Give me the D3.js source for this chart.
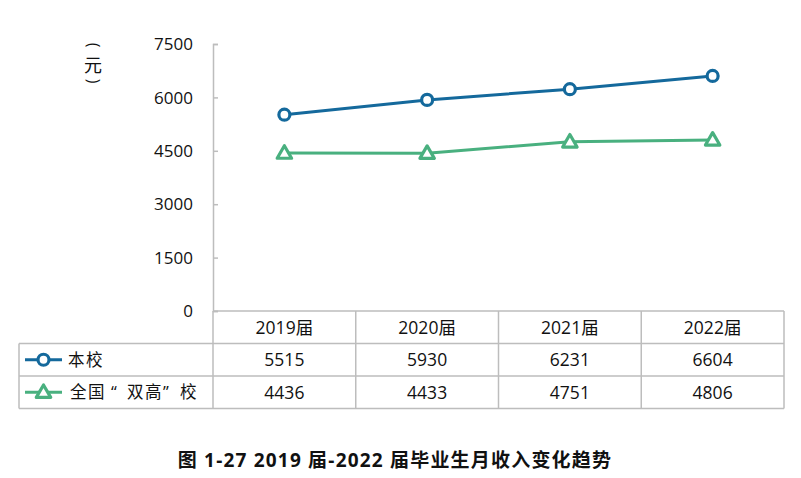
<!DOCTYPE html>
<html>
<head>
<meta charset="utf-8">
<script src="https://cdn.jsdelivr.net/npm/d3@7"></script>
<style>
  body { margin: 0; background: #fff; }
  text { font-family: "Open Sans", "Noto Sans CJK SC", sans-serif; }
</style>
</head>
<body>
<svg width="801" height="478"></svg>
<script>
const years = ["2019届", "2020届", "2021届", "2022届"];
const schoolVals = [5515, 5930, 6231, 6604];
const nationVals = [4436, 4433, 4751, 4806];
const yTicks = [0, 1500, 3000, 4500, 6000, 7500];
const seriesNames = ["本校", "全国“双高”校"];

const svg = d3.select("svg");
const plotL = 213, plotR = 784, plotT = 44, plotB = 311;
const rowH = 32.5;
const blue = "#14699c", green = "#49b07f", grid = "#bdbdbd";

const x = d3.scaleBand().domain(years).range([plotL, plotR]);
const y = d3.scaleLinear().domain([0, 7500]).range([plotB, plotT]);

// y axis
const yAxis = svg.append("g").attr("transform", `translate(${plotL},0)`)
  .call(d3.axisRight(y).tickValues(yTicks).tickSize(5).tickFormat(""));
yAxis.select(".domain").attr("stroke", grid).attr("stroke-width", 1.5);
yAxis.selectAll(".tick line").attr("stroke", grid).attr("stroke-width", 1.5);

svg.append("g").selectAll("text").data(yTicks).join("text")
  .attr("x", 193).attr("y", d => y(d)).attr("dy", "0.36em")
  .attr("text-anchor", "end").attr("font-size", 17).attr("fill", "#111")
  .text(d => d);

// axis title, stacked vertically with rotated brackets
const unit = svg.append("g").attr("fill", "#111").attr("font-family", "Noto Sans CJK SC")
  .attr("text-anchor", "middle");
unit.append("text").attr("transform", "translate(93,45) rotate(90)").attr("dy", "0.32em")
  .attr("font-size", 16).text("(");
unit.append("text").attr("x", 93).attr("y", 66).attr("dy", "0.36em")
  .attr("font-size", 18).text("元");
unit.append("text").attr("transform", "translate(93,81) rotate(90)").attr("dy", "0.32em")
  .attr("font-size", 16).text(")");

// table grid
const tg = svg.append("g").attr("stroke", grid).attr("stroke-width", 1.5).attr("fill", "none");
tg.append("line").attr("x1", plotL).attr("x2", plotR).attr("y1", plotB).attr("y2", plotB);
[1, 2, 3].forEach(i => tg.append("line").attr("x1", 19).attr("x2", plotR)
  .attr("y1", plotB + rowH * i).attr("y2", plotB + rowH * i));
tg.append("line").attr("x1", 19).attr("x2", 19).attr("y1", plotB + rowH).attr("y2", plotB + rowH * 3);
tg.append("line").attr("x1", plotL).attr("x2", plotL).attr("y1", plotB).attr("y2", plotB + rowH * 3);
years.forEach(yr => {
  const xr = x(yr) + x.bandwidth();
  tg.append("line").attr("x1", xr).attr("x2", xr).attr("y1", plotB).attr("y2", plotB + rowH * 3);
});

// table text
const rows = [years, schoolVals, nationVals];
rows.forEach((r, i) => {
  svg.append("g").selectAll("text").data(r).join("text")
    .attr("x", (d, j) => x(years[j]) + x.bandwidth() / 2)
    .attr("y", plotB + rowH * i + rowH / 2).attr("dy", "0.36em")
    .attr("text-anchor", "middle").attr("font-size", 17.5).attr("fill", "#111")
    .text(d => d);
});

// lines
const cx = d => x(d) + x.bandwidth() / 2;
const line = d3.line().x((d, i) => cx(years[i])).y(d => y(d));
svg.append("path").datum(schoolVals).attr("d", line)
  .attr("fill", "none").attr("stroke", blue).attr("stroke-width", 3);
svg.append("path").datum(nationVals).attr("d", line)
  .attr("fill", "none").attr("stroke", green).attr("stroke-width", 3);

const tri = d3.symbol().type(d3.symbolTriangle).size(90);
function circleMark(g, px, py) {
  g.append("circle").attr("cx", px).attr("cy", py).attr("r", 5.5)
    .attr("fill", "#fff").attr("stroke", blue).attr("stroke-width", 3.2);
}
function triMark(g, px, py) {
  g.append("path").attr("d", tri).attr("transform", `translate(${px},${py + 1})`)
    .attr("fill", "#fff").attr("stroke", green).attr("stroke-width", 3.2)
    .attr("stroke-linejoin", "round");
}
schoolVals.forEach((v, i) => circleMark(svg, cx(years[i]), y(v)));
nationVals.forEach((v, i) => triMark(svg, cx(years[i]), y(v)));

// legend in table
const ly1 = plotB + rowH * 1.5, ly2 = plotB + rowH * 2.5;
svg.append("line").attr("x1", 25).attr("x2", 62).attr("y1", ly1).attr("y2", ly1)
  .attr("stroke", blue).attr("stroke-width", 3);
circleMark(svg, 43.5, ly1);
svg.append("line").attr("x1", 25).attr("x2", 62).attr("y1", ly2).attr("y2", ly2)
  .attr("stroke", green).attr("stroke-width", 3);
triMark(svg, 43.5, ly2);
svg.append("text").attr("x", "68 86").attr("y", ly1).attr("dy", "0.36em")
  .attr("font-size", 16.5).attr("fill", "#111").attr("font-family", "Noto Sans CJK SC")
  .text(seriesNames[0]);
svg.append("text").attr("x", "70 88 111 127 145 163 180").attr("y", ly2).attr("dy", "0.36em")
  .attr("font-size", 16.5).attr("fill", "#111").attr("font-family", "Noto Sans CJK SC")
  .text(seriesNames[1]);

// caption
svg.append("text").attr("x", 395).attr("y", 460).attr("dy", "0.36em")
  .attr("text-anchor", "middle").attr("font-size", 19).attr("font-weight", "bold")
  .attr("letter-spacing", 1.2)
  .attr("fill", "#111").attr("font-family", "Noto Sans CJK SC")
  .attr("xml:space", "preserve")
  .text("图 1-27 2019 届-2022 届毕业生月收入变化趋势");
</script>
</body>
</html>
